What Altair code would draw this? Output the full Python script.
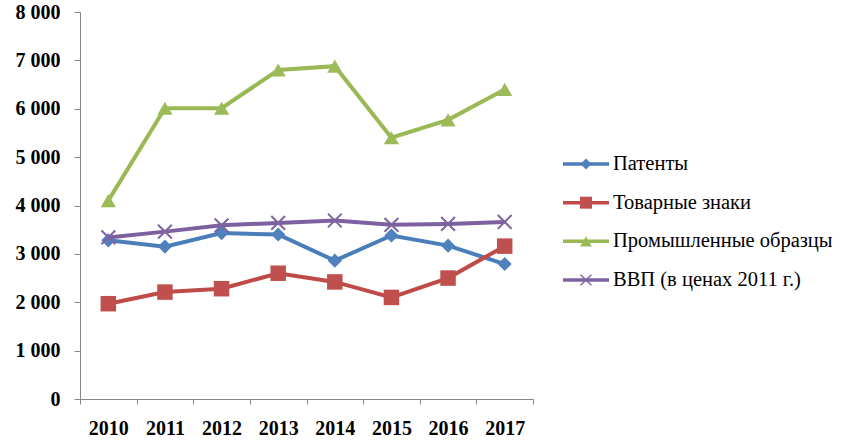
import altair as alt
import pandas as pd

years = ["2010", "2011", "2012", "2013", "2014", "2015", "2016", "2017"]
series = ["Патенты", "Товарные знаки", "Промышленные образцы", "ВВП (в ценах 2011 г.)"]

patents = [3280, 3150, 3430, 3400, 2860, 3380, 3170, 2790]
trademarks = [1970, 2210, 2280, 2600, 2420, 2100, 2500, 3160]
designs = [4100, 6010, 6010, 6800, 6880, 5400, 5770, 6400]
gdp = [3340, 3460, 3590, 3640, 3690, 3600, 3620, 3660]

values = [patents, trademarks, designs, gdp]

line_colors = ["#4A7EBB", "#BE4B48", "#98B954", "#7D60A0"]
marker_colors = ["#4F81BD", "#C0504D", "#9BBB59", "#8064A2"]
shapes = ["diamond", "square", "triangle-up", "M-1,-1L1,1M-1,1L1,-1"]
sizes = [200, 240, 230, 190]

rows = []
for name, vals in zip(series, values):
    for y, v in zip(years, vals):
        rows.append({"year": y, "series": name, "value": v})
df = pd.DataFrame(rows)

FONT = "Liberation Serif"

x_enc = alt.X(
    "year:O",
    bandPosition=0.5,
    scale=alt.Scale(type="band", domain=years, paddingInner=0, paddingOuter=0),
    axis=alt.Axis(
        title=None, labelAngle=0, tickBand="extent", domainColor="#868686",
        tickColor="#868686", tickSize=5, labelPadding=14, labelFont=FONT,
        labelFontSize=20, labelFontWeight="bold", labelColor="#000000",
        grid=False,
    ),
)
y_enc = alt.Y(
    "value:Q",
    scale=alt.Scale(domain=[0, 8000], nice=False),
    axis=alt.Axis(
        title=None, values=list(range(0, 8001, 1000)),
        labelExpr="replace(format(datum.value, ','), ',', ' ')",
        domainColor="#868686", tickColor="#868686", tickSize=6,
        labelPadding=14, labelFont=FONT, labelFontSize=20,
        labelFontWeight="bold", labelColor="#000000", grid=False,
    ),
)

layers = []
for name, lc, mc, shp, sz in zip(series, line_colors, marker_colors, shapes, sizes):
    base = alt.Chart(df).transform_filter(alt.datum.series == name)
    line = base.mark_line(color=lc, strokeWidth=4).encode(x=x_enc, y=y_enc)
    if shp.startswith("M"):
        pts = base.mark_point(shape=shp, size=sz, filled=False, stroke=mc,
                              strokeWidth=2, opacity=1).encode(x=x_enc, y=y_enc)
    else:
        pts = base.mark_point(shape=shp, size=sz, filled=True, color=mc,
                              opacity=1).encode(x=x_enc, y=y_enc)
    layers += [line, pts]

main = alt.layer(*layers).properties(width=453, height=387)

# legend panel: line sample with marker, then the series name
leg_df = pd.DataFrame({"series": series})
leg_y = alt.Y("series:N",
              scale=alt.Scale(type="point", domain=series, range=[152, 268], padding=0),
              axis=None)
leg_layers = []
for name, lc, mc, shp, sz in zip(series, line_colors, marker_colors, shapes, sizes):
    b = alt.Chart(leg_df).transform_filter(alt.datum.series == name)
    leg_layers.append(
        b.mark_rule(color=lc, strokeWidth=3.5).encode(
            x=alt.value(4), x2=alt.value(50), y=leg_y)
    )
    if shp.startswith("M"):
        leg_layers.append(
            b.mark_point(shape=shp, size=sz * 0.6, filled=False, stroke=mc,
                         strokeWidth=1.5, opacity=1).encode(x=alt.value(27), y=leg_y)
        )
    else:
        leg_layers.append(
            b.mark_point(shape=shp, size=sz * 0.6, filled=True, color=mc,
                         opacity=1).encode(x=alt.value(27), y=leg_y)
        )
leg_layers.append(
    alt.Chart(leg_df).mark_text(align="left", baseline="middle", font=FONT,
                                fontSize=20.5, color="#000000").encode(
        x=alt.value(54), y=leg_y, text="series:N")
)
legend = alt.layer(*leg_layers).properties(width=230, height=387)

chart = (
    alt.hconcat(main, legend, spacing=25)
    .properties(padding={"left": 15, "top": 2, "right": 5, "bottom": 2})
    .configure(background="#ffffff")
    .configure_view(strokeWidth=0, stroke="transparent")
)

chart.save("out.html", embed_options={"renderer": "svg", "actions": False})
